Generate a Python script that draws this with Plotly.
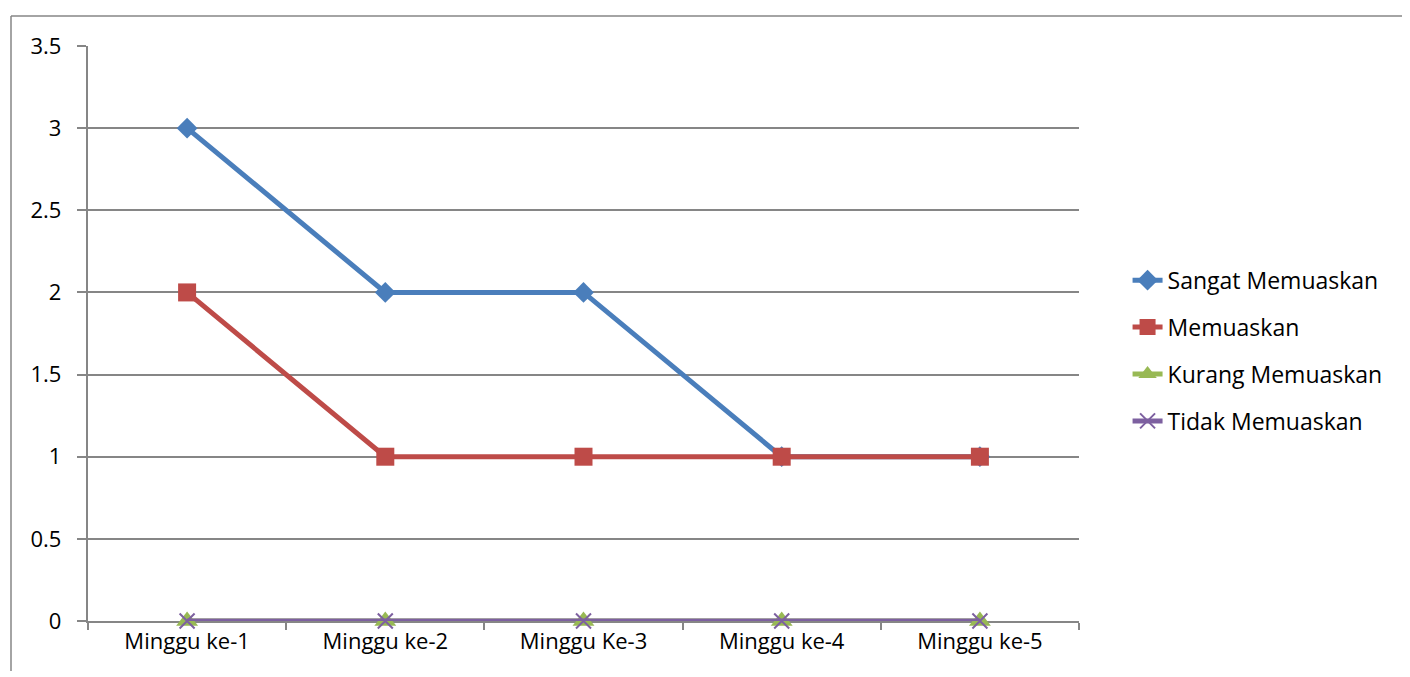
import plotly.graph_objects as go

categories = ["Minggu ke-1", "Minggu ke-2", "Minggu Ke-3", "Minggu ke-4", "Minggu ke-5"]
sangat = [3, 2, 2, 1, 1]
memuaskan = [2, 1, 1, 1, 1]
kurang = [0, 0, 0, 0, 0]
tidak = [0, 0, 0, 0, 0]

# figure is offset ~7px by the page body margin
W, H = 1396, 663
L, R, T, B = 80, 1071, 38, 613

series = [
    ("Sangat Memuaskan", sangat, "#4A7EBB", "diamond", 16, 0),
    ("Memuaskan", memuaskan, "#BE4B48", "square", 18, 0),
    ("Kurang Memuaskan", kurang, "#98B954", "triangle-up", 19, 0),
    ("Tidak Memuaskan", tidak, "#7D60A0", "x-thin", 15, 2),
]

fig = go.Figure()
for name, vals, color, sym, size, lw in series:
    fig.add_trace(go.Scatter(
        x=categories, y=vals, name=name, mode="lines+markers",
        legendgroup=name, cliponaxis=False,
        line=dict(color=color, width=5),
        marker=dict(symbol=sym, size=size, color=color,
                    line=dict(color=color, width=lw)),
    ))

font = "Open Sans, Liberation Sans, sans-serif"
fig.update_layout(
    width=W, height=H,
    margin=dict(l=L, r=W - R, t=T, b=H - B, pad=0),
    paper_bgcolor="white", plot_bgcolor="white",
    font=dict(family=font, size=22, color="black"),
    showlegend=True,
    legend=dict(x=1.049, y=0.47, xanchor="left", yanchor="middle",
                font=dict(size=23), tracegroupgap=14,
                bgcolor="rgba(0,0,0,0)"),
    xaxis=dict(
        type="category", range=[-0.5, 4.5], tickson="boundaries",
        showgrid=False, showline=True, linecolor="#868686", linewidth=1.5,
        ticks="outside", ticklen=7, tickcolor="#868686", tickwidth=1.5,
        tickfont=dict(size=22), zeroline=False, layer="below traces",
    ),
    yaxis=dict(
        range=[0, 3.5], dtick=0.5,
        showgrid=True, gridcolor="#868686", gridwidth=1.5,
        showline=True, linecolor="#868686", linewidth=1.5,
        ticks="outside", ticklen=9, tickcolor="#868686", tickwidth=1.5,
        tickfont=dict(size=22), zeroline=False, ticksuffix="  ",
        layer="below traces",
    ),
)

# outer chart border (left and top edges visible)
bx0 = (3 - L) / (R - L)
by1 = (B - 8) / (B - T)
fig.add_shape(type="line", xref="paper", yref="paper",
              x0=bx0, x1=bx0, y0=-0.2, y1=by1,
              line=dict(color="#868686", width=1.5))
fig.add_shape(type="line", xref="paper", yref="paper",
              x0=bx0, x1=2, y0=by1, y1=by1,
              line=dict(color="#868686", width=1.5))

fig.write_html("out.html")
